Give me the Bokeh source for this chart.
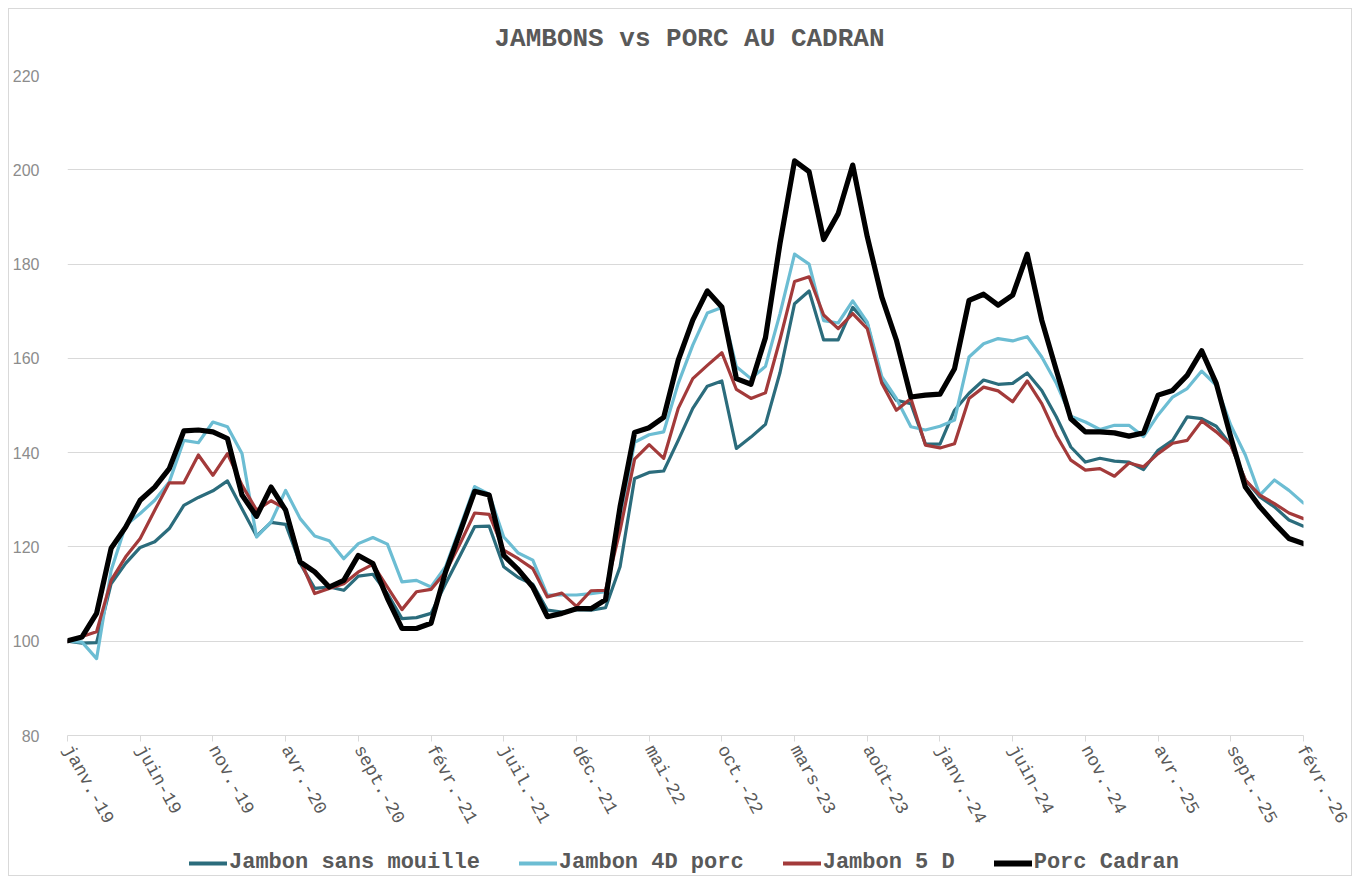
from bokeh.plotting import figure
from bokeh.layouts import column
from bokeh.models import Legend, LegendItem, FixedTicker, Range1d, ColumnDataSource, Label
from bokeh.embed import file_html
from bokeh.resources import INLINE

# ---- data -------------------------------------------------------------
chart_title = "JAMBONS vs PORC AU CADRAN"
tick_labels = ["janv.-19", "juin-19", "nov.-19", "avr.-20", "sept.-20", "févr.-21",
               "juil.-21", "déc.-21", "mai-22", "oct.-22", "mars-23", "août-23",
               "janv.-24", "juin-24", "nov.-24", "avr.-25", "sept.-25", "févr.-26"]
month_step = 5  # one labelled month every five months

jambon_sans_mouille = [
    100.0, 99.6, 99.7, 112.2, 116.5, 119.9, 121.1, 123.9, 128.8, 130.5,
    131.9, 134.0, 128.1, 122.3, 125.2, 124.8, 116.5, 111.2, 111.5, 110.8,
    113.8, 114.2, 110.1, 104.8, 105.0, 105.9, 112.2, 118.2, 124.3, 124.4,
    115.8, 113.5, 112.1, 106.6, 106.2, 106.7, 106.6, 107.1, 115.8, 134.5,
    135.8, 136.1, 142.6, 149.4, 154.1, 155.2, 140.9, 143.3, 146.0, 157.0,
    171.6, 174.3, 163.9, 163.9, 170.8, 167.4, 155.4, 151.1, 150.4, 141.8,
    141.8, 149.0, 152.6, 155.4, 154.5, 154.7, 156.9, 153.2, 147.6, 141.2,
    138.0, 138.8, 138.2, 138.0, 136.4, 140.5, 142.6, 147.6, 147.2, 145.6,
    141.6, 134.2, 130.6, 128.5, 125.7, 124.4]

jambon_4d_porc = [
    100.0, 99.8, 96.3, 115.0, 124.6, 127.1, 129.9, 133.8, 142.6, 142.1,
    146.5, 145.5, 139.8, 122.1, 125.3, 132.0, 126.0, 122.3, 121.3, 117.5,
    120.7, 122.0, 120.6, 112.6, 112.9, 111.5, 115.8, 124.2, 132.8, 131.2,
    122.1, 118.7, 117.2, 109.8, 109.8, 109.8, 110.1, 110.5, 125.7, 142.2,
    143.8, 144.4, 154.7, 162.8, 169.6, 170.8, 158.2, 155.7, 158.3, 169.5,
    182.1, 180.0, 168.0, 167.5, 172.2, 167.7, 156.1, 151.5, 145.5, 144.8,
    145.6, 146.9, 160.3, 163.1, 164.2, 163.7, 164.6, 160.3, 154.7, 147.7,
    146.5, 144.9, 145.8, 145.8, 143.4, 148.0, 151.8, 153.6, 157.3, 154.3,
    145.8, 139.5, 131.0, 134.2, 132.0, 129.3]

jambon_5d = [
    100.0, 101.0, 102.0, 112.9, 117.9, 121.8, 127.8, 133.6, 133.6, 139.5,
    135.2, 139.8, 133.1, 127.8, 129.8, 128.1, 117.2, 110.1, 111.2, 112.2,
    114.7, 116.3, 111.5, 106.7, 110.5, 111.0, 114.7, 120.7, 127.2, 126.9,
    119.3, 117.5, 115.4, 109.4, 110.2, 107.4, 110.7, 110.8, 123.5, 138.6,
    141.7, 138.8, 149.4, 155.7, 158.5, 161.2, 153.4, 151.5, 152.7, 164.0,
    176.3, 177.3, 169.2, 166.3, 169.5, 166.3, 154.7, 149.0, 151.5, 141.6,
    141.0, 141.9, 151.5, 153.9, 153.1, 150.8, 155.2, 150.4, 143.7, 138.4,
    136.3, 136.6, 135.0, 137.8, 137.0, 139.8, 142.0, 142.6, 146.7, 144.4,
    141.6, 134.2, 131.0, 129.2, 127.2, 126.0]

porc_cadran = [
    100.1, 100.9, 105.9, 119.7, 124.2, 129.9, 132.7, 136.6, 144.6, 144.8,
    144.4, 143.0, 131.0, 126.5, 132.7, 127.8, 116.8, 114.7, 111.5, 112.9,
    118.2, 116.5, 109.1, 102.7, 102.7, 103.8, 114.7, 123.2, 131.8, 131.0,
    118.2, 115.2, 111.5, 105.2, 105.9, 106.9, 106.9, 108.8, 128.5, 144.3,
    145.3, 147.5, 159.6, 168.1, 174.3, 170.9, 155.7, 154.5, 164.4, 184.4,
    201.9, 199.6, 185.2, 190.7, 201.0, 185.8, 173.0, 163.9, 151.8, 152.2,
    152.4, 157.8, 172.3, 173.6, 171.3, 173.4, 182.1, 168.1, 157.5, 147.2,
    144.4, 144.4, 144.2, 143.5, 144.2, 152.2, 153.2, 156.4, 161.6, 154.7,
    143.3, 132.7, 128.5, 125.0, 121.8, 120.7]

series_names = ["Jambon sans mouille", "Jambon 4D porc", "Jambon 5 D", "Porc Cadran"]
y_ticks = [80, 100, 120, 140, 160, 180, 200, 220]

# ---- styles -----------------------------------------------------------
FONT = "Liberation Mono"
colors = ["#2B6C7C", "#6CBDD3", "#A33A3A", "#000000"]
widths = [3.2, 3.2, 3.2, 5.2]
W = 1337

# ---- header strip with the title -------------------------------------
HEAD_H = 58
hd = figure(width=W, height=HEAD_H, output_backend="svg", toolbar_location=None,
            x_axis_type=None, y_axis_type=None, min_border=0,
            x_range=Range1d(0, 1), y_range=Range1d(0, 1))
hd.outline_line_color = None
hd.grid.visible = False
hd.border_fill_color = "white"
hd.add_layout(Label(x=622, y=HEAD_H / 2, x_units="screen", y_units="screen",
                    text=chart_title, text_align="center", text_baseline="middle",
                    text_font=FONT, text_font_size="26px", text_font_style="bold",
                    text_color="#595959"))

# ---- main figure ------------------------------------------------------
n = len(porc_cadran)
idx = list(range(n))
src = ColumnDataSource(dict(x=idx, a=jambon_sans_mouille, b=jambon_4d_porc,
                            c=jambon_5d, d=porc_cadran))

p = figure(frame_width=1236, frame_height=660, output_backend="svg", toolbar_location=None,
           x_range=Range1d(0, n - 1), y_range=Range1d(y_ticks[0], y_ticks[-1]),
           min_border_left=53, min_border_right=48, min_border_top=66 - HEAD_H,
           min_border_bottom=112)
p.outline_line_color = None
p.background_fill_color = "white"
p.border_fill_color = "white"

p.xaxis.ticker = FixedTicker(ticks=list(range(0, n, month_step)))
p.xaxis.major_label_overrides = {i * month_step: lab for i, lab in enumerate(tick_labels)}
p.xaxis.major_label_orientation = -1.07
p.xaxis.major_label_text_font = FONT
p.xaxis.major_label_text_font_size = "18px"
p.xaxis.major_label_text_color = "#595959"
p.xaxis.axis_line_color = "#d9d9d9"
p.xaxis.major_tick_line_color = "#d9d9d9"
p.xaxis.major_tick_out = 6
p.xaxis.major_tick_in = 0
p.xaxis.minor_tick_line_color = None
p.xaxis.major_label_standoff = 5
p.xaxis.axis_label_standoff = 0

p.yaxis.ticker = FixedTicker(ticks=y_ticks)
p.yaxis.axis_line_color = None
p.yaxis.major_tick_line_color = None
p.yaxis.minor_tick_line_color = None
p.yaxis.major_label_text_font = "Liberation Sans"
p.yaxis.major_label_text_font_size = "16px"
p.yaxis.major_label_text_color = "#8c8c8c"
p.yaxis.major_label_standoff = 22

p.xgrid.grid_line_color = None
p.ygrid.grid_line_color = "#d9d9d9"
p.ygrid.grid_line_width = 1

for col, color, w in zip(["a", "b", "c", "d"], colors, widths):
    p.line("x", col, source=src, line_color=color, line_width=w,
           line_join="round", line_cap="round")

# ---- legend strip (separate small figure under the chart) -------------
LEG_H = 28
lg = figure(width=W, height=LEG_H, output_backend="svg", toolbar_location=None,
            x_axis_type=None, y_axis_type=None, min_border=0,
            x_range=Range1d(0, 1), y_range=Range1d(0, 1))
lg.outline_line_color = None
lg.grid.visible = False
lg.background_fill_color = "white"
lg.border_fill_color = "white"
items = []
for nm, color, w in zip(series_names, colors, widths):
    r = lg.line(x=[float("nan")], y=[float("nan")], line_color=color,
                line_width=w + 1, line_cap="round")
    items.append(LegendItem(label=nm, renderers=[r]))
legend = Legend(items=items, orientation="horizontal", location=(122, 0))
legend.label_text_font = FONT
legend.label_text_font_size = "22px"
legend.label_text_font_style = "bold"
legend.label_text_color = "#595959"
legend.glyph_width = 38
legend.glyph_height = 24
legend.label_height = 24
legend.label_standoff = 2
legend.spacing = 39
legend.border_line_color = None
legend.background_fill_alpha = 0
legend.padding = 0
legend.margin = 0
lg.add_layout(legend, "center")

layout = column(hd, p, lg, spacing=0)
layout.styles = {"margin": "8px 0px 0px 8px", "border": "1px solid #d9d9d9"}

open("out.html", "w").write(file_html(layout, INLINE))
